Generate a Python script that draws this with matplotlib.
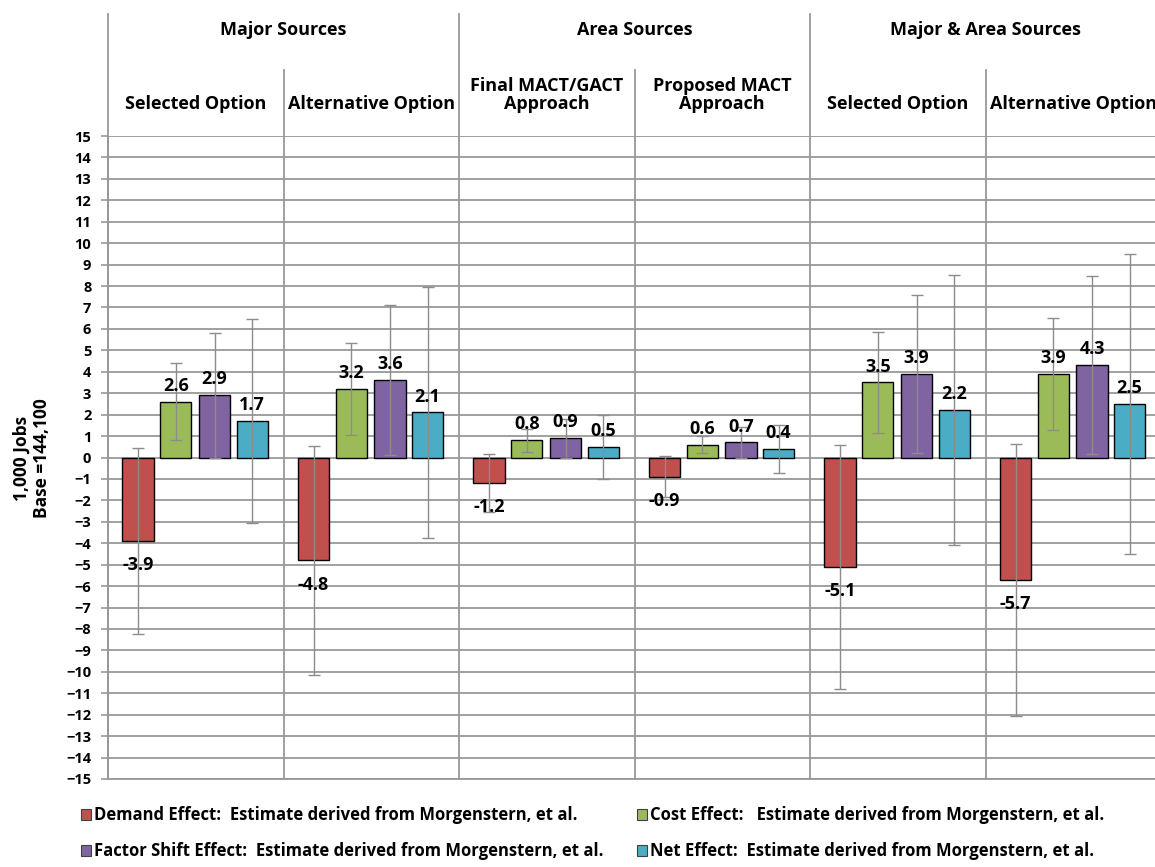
import numpy as np
import matplotlib.pyplot as plt
from matplotlib.patches import Rectangle
from matplotlib.transforms import blended_transform_factory

plt.rcParams['font.family'] = ['Open Sans', 'DejaVu Sans']
plt.rcParams['font.weight'] = 'bold'

# %% Daten

groups = ['Major Sources', 'Area Sources', 'Major & Area Sources']
panels = ['Selected Option', 'Alternative Option',
          'Final MACT/GACT\nApproach', 'Proposed MACT\nApproach',
          'Selected Option', 'Alternative Option']

series = ['Demand Effect:  Estimate derived from Morgenstern, et al.',
          'Cost Effect:   Estimate derived from Morgenstern, et al.',
          'Factor Shift Effect:  Estimate derived from Morgenstern, et al.',
          'Net Effect:  Estimate derived from Morgenstern, et al.']

demand = [-3.9, -4.8, -1.2, -0.9, -5.1, -5.7]
cost = [2.6, 3.2, 0.8, 0.6, 3.5, 3.9]
factor_shift = [2.9, 3.6, 0.9, 0.7, 3.9, 4.3]
net = [1.7, 2.1, 0.5, 0.4, 2.2, 2.5]

demand_err = [4.35, 5.35, 1.35, 0.95, 5.7, 6.35]
cost_err = [1.8, 2.15, 0.53, 0.4, 2.35, 2.6]
factor_shift_err = [2.9, 3.5, 0.9, 0.72, 3.7, 4.15]
net_err = [4.75, 5.85, 1.5, 1.13, 6.3, 7.0]

colors = ['#C0504D', '#9BBB59', '#8064A2', '#4BACC6']

# %% Plot

fig = plt.figure(figsize=(11.55, 8.67), dpi=100)
ax = fig.add_axes([108/1155, 88/867, 1053/1155, 643/867])

grid_col = '#999999'
x = np.arange(len(panels)) + 0.5
offsets = [-0.329, -0.113, 0.107, 0.321]
width = 0.177

values = [demand, cost, factor_shift, net]
errors = [demand_err, cost_err, factor_shift_err, net_err]

for i in range(4):
    ax.bar(x + offsets[i], values[i], width, color=colors[i], edgecolor='black',
           linewidth=1.0, zorder=3, label=series[i])
    ax.errorbar(x + offsets[i], values[i], yerr=errors[i], fmt='none',
                ecolor='#8c8c8c', elinewidth=1.0, capsize=4, capthick=1.0, zorder=4)
    for xi, v in zip(x + offsets[i], values[i]):
        if v >= 0:
            ax.annotate(f'{v:.1f}', (xi, v), xytext=(0, 5), textcoords='offset points',
                        ha='center', va='bottom', fontsize=13, fontweight='bold', zorder=5)
        else:
            ax.annotate(f'{v:.1f}', (xi, v), xytext=(0, -11), textcoords='offset points',
                        ha='center', va='top', fontsize=13, fontweight='bold', zorder=5)

ax.set_xlim(0, 6)
ax.set_ylim(-15, 15)
ax.set_yticks(np.arange(-15, 16, 1))
ax.set_xticks([])
ax.yaxis.grid(True, color=grid_col, linewidth=1.3, zorder=0)
ax.tick_params(axis='y', length=5, width=1.2, color=grid_col, labelsize=10.5, pad=7)
for lab in ax.get_yticklabels():
    lab.set_fontweight('bold')
for s in ['top', 'right']:
    ax.spines[s].set_visible(False)
for s in ['left', 'bottom']:
    ax.spines[s].set_color(grid_col)
    ax.spines[s].set_linewidth(1.3)

fig.text(32/1155, 1 - 458/867, '1,000 Jobs\nBase =144,100', rotation=90,
         ha='center', va='center', fontsize=12.5, fontweight='bold', linespacing=1.15)

# Trennlinien und Kopfzeilen
trans = blended_transform_factory(ax.transData, ax.transAxes)
for k in range(0, 7):
    top = 1.19 if k % 2 == 0 else 1.103
    ax.plot([k, k], [0, top], color=grid_col, linewidth=1.3, transform=trans,
            clip_on=False, zorder=1)

for g, name in enumerate(groups):
    ax.text(2*g + 1, 1.165, name, transform=trans, ha='center', va='center',
            fontsize=13, fontweight='bold')

for p, name in enumerate(panels):
    ax.text(p + 0.5, 1.035, name, transform=trans, ha='center', va='bottom',
            fontsize=13, fontweight='bold', linespacing=1.0)

# Legende
leg_pos = [(81, 815), (637, 815), (81, 851), (637, 851)]
for i in range(4):
    px, py = leg_pos[i]
    fig.add_artist(Rectangle((px/1155, 1 - (py + 5)/867), 10/1155, 11/867,
                             facecolor=colors[i], edgecolor='#404040', linewidth=0.8,
                             transform=fig.transFigure))
    fig.text((px + 13)/1155, 1 - py/867, series[i], ha='left', va='center',
             fontsize=12, fontweight='bold')

fig.savefig('out.png', dpi=100)
